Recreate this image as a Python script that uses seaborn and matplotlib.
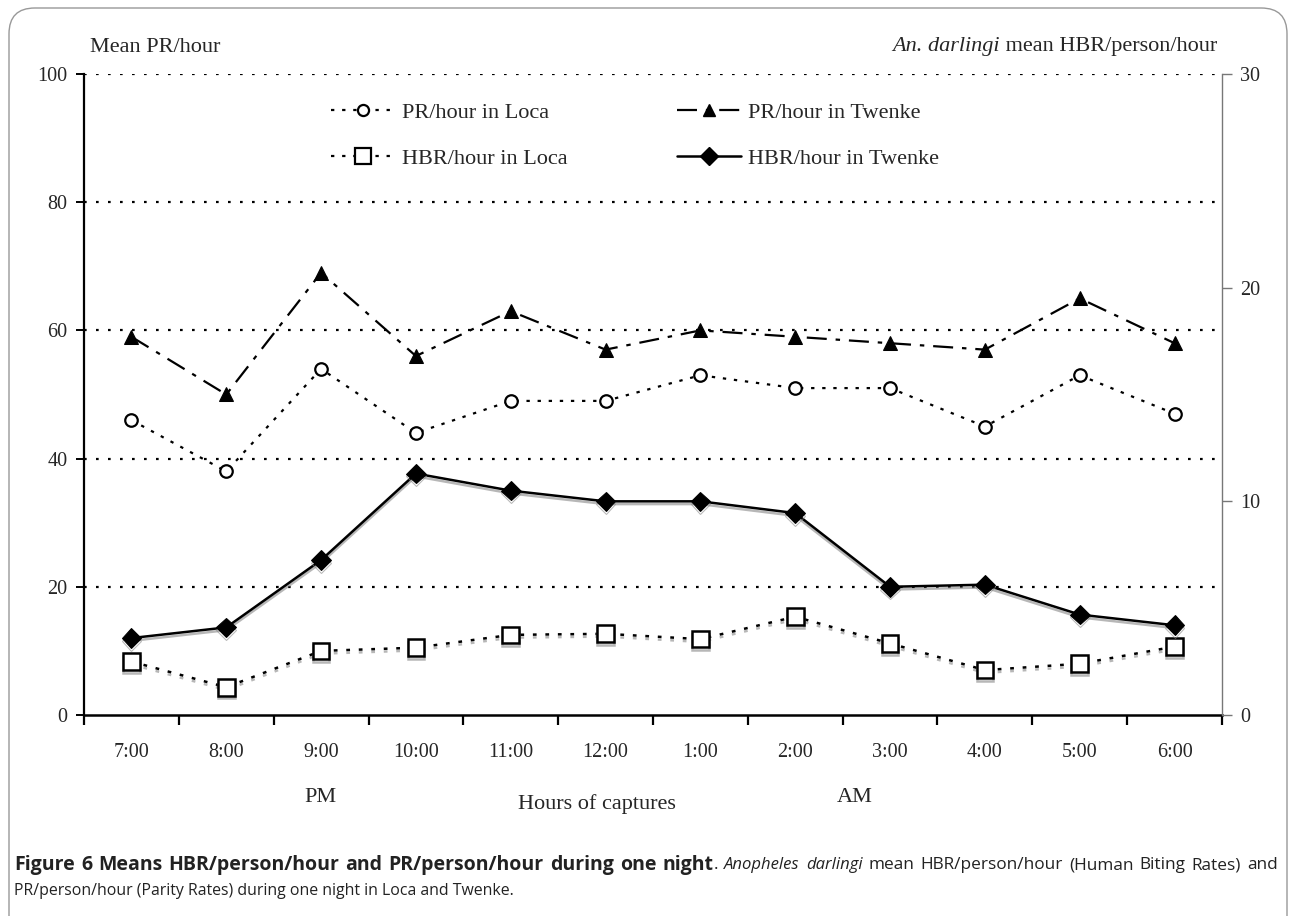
import numpy as np
import pandas as pd
import matplotlib
matplotlib.use("Agg")
import matplotlib.pyplot as plt
import matplotlib.patheffects as pe
from matplotlib.patches import FancyBboxPatch
from matplotlib.lines import Line2D
import seaborn as sns

hours = ["7:00", "8:00", "9:00", "10:00", "11:00", "12:00",
         "1:00", "2:00", "3:00", "4:00", "5:00", "6:00"]
pr_loca = [46, 38, 54, 44, 49, 49, 53, 51, 51, 45, 53, 47]
pr_twenke = [59, 50, 69, 56, 63, 57, 60, 59, 58, 57, 65, 58]
hbr_loca = [2.5, 1.3, 3.0, 3.15, 3.75, 3.8, 3.55, 4.6, 3.35, 2.1, 2.4, 3.2]
hbr_twenke = [3.6, 4.1, 7.25, 11.3, 10.5, 10.0, 10.0, 9.45, 6.0, 6.1, 4.7, 4.2]

left_ticks = [0, 20, 40, 60, 80, 100]
right_ticks = [0, 10, 20, 30]

sns.set_theme(style="white")
plt.rcParams["font.family"] = ["Liberation Serif", "DejaVu Serif"]

W, H = 1292, 916
fig = plt.figure(figsize=(W / 100, H / 100), dpi=100)
ax = fig.add_axes([84 / W, 1 - 715 / H, (1222 - 84) / W, (715 - 74) / H])
ax2 = ax.twinx()

x = np.arange(len(hours))
df = pd.DataFrame({"x": x, "pr_loca": pr_loca, "pr_twenke": pr_twenke,
                   "hbr_loca": hbr_loca, "hbr_twenke": hbr_twenke})

shadow = [pe.SimpleLineShadow(offset=(0, -2), shadow_color="#888888", alpha=0.6),
          pe.Normal()]

# left-axis series
sns.lineplot(data=df, x="x", y="pr_loca", ax=ax, color="black", lw=1.6,
             linestyle=(0, (1.5, 3.5)), marker="o", markersize=9,
             markerfacecolor="white", markeredgecolor="black", markeredgewidth=1.6,
             zorder=5)
sns.lineplot(data=df, x="x", y="pr_twenke", ax=ax, color="black", lw=1.6,
             linestyle=(0, (9, 4, 2, 4)), marker="^", markersize=10,
             markerfacecolor="black", markeredgecolor="black", zorder=5)

# right-axis series
sns.lineplot(data=df, x="x", y="hbr_loca", ax=ax2, color="black", lw=1.8,
             linestyle=(0, (1.5, 3.5)), marker="s", markersize=12,
             markerfacecolor="white", markeredgecolor="black", markeredgewidth=1.8,
             path_effects=shadow, zorder=5)
sns.lineplot(data=df, x="x", y="hbr_twenke", ax=ax2, color="black", lw=1.8,
             linestyle="-", marker="D", markersize=10,
             markerfacecolor="black", markeredgecolor="black",
             path_effects=shadow, zorder=5)

# axes limits / ticks
ax.set_xlim(-0.5, len(hours) - 0.5)
ax.set_ylim(0, 100)
ax2.set_ylim(0, 30)
ax.set_yticks(left_ticks)
ax2.set_yticks(right_ticks)
ax.set_xticks(x)
ax.set_xticklabels(hours)
ax.set_xticks(np.arange(-0.5, len(hours)), minor=True)
ax.tick_params(axis="x", which="major", length=0, pad=20, labelsize=14.5)
ax.tick_params(axis="x", which="minor", direction="out", length=7, width=1.6,
               color="black", bottom=True)
ax.tick_params(axis="y", direction="out", length=6, width=1.4, color="black",
               labelsize=14.5, pad=6, left=True)
ax2.tick_params(axis="y", direction="out", length=7, width=1.0, color="#777777",
                labelsize=14.5, pad=6, right=True)
ax.set_xlabel("")
ax.set_ylabel("")
ax2.set_ylabel("")

# grid lines
for v in left_ticks[1:]:
    ax.axhline(v, color="black", lw=1.6, linestyle=(0, (1.2, 4.2)), zorder=1)

# spines
ax.spines["top"].set_visible(False)
ax2.spines["top"].set_visible(False)
ax.spines["right"].set_visible(False)
ax2.spines["left"].set_visible(False)
ax2.spines["bottom"].set_visible(False)
ax.spines["left"].set_color("black")
ax.spines["left"].set_linewidth(1.6)
ax.spines["bottom"].set_color("black")
ax.spines["bottom"].set_linewidth(1.8)
ax2.spines["right"].set_color("#777777")
ax2.spines["right"].set_linewidth(1.0)

# legend
handles = [
    Line2D([], [], color="black", lw=1.6, linestyle=(0, (1.5, 3.5)), marker="o",
           markersize=8, markerfacecolor="white", markeredgewidth=1.6),
    Line2D([], [], color="black", lw=1.6, linestyle=(0, (1.5, 3.5)), marker="s",
           markersize=11, markerfacecolor="white", markeredgewidth=1.6),
    Line2D([], [], color="black", lw=1.6, linestyle=(0, (9, 4, 2, 4)), marker="^",
           markersize=9, markerfacecolor="black"),
    Line2D([], [], color="black", lw=1.8, linestyle="-", marker="D",
           markersize=9, markerfacecolor="black"),
]
labels = ["PR/hour in Loca", "HBR/hour in Loca", "PR/hour in Twenke", "HBR/hour in Twenke"]
ax_w = 1222 - 84
ax_h = 715 - 74
leg = ax2.legend(handles, labels, ncol=2, loc="upper left",
                 bbox_to_anchor=((331 - 84) / ax_w, 1 - (102 - 74) / ax_h),
                 frameon=False, fontsize=16, handlelength=2.9, handletextpad=0.3,
                 columnspacing=4.9, labelspacing=1.15, borderpad=0, borderaxespad=0)

# axis titles
fig.text(90 / W, 1 - 47 / H, "Mean PR/hour", fontsize=16, ha="left", va="center")
rt = fig.text(1217 / W, 1 - 47 / H, " mean HBR/person/hour", fontsize=16,
              ha="right", va="center")
fig.canvas.draw()
rx0 = rt.get_window_extent().x0 / W
fig.text(rx0, 1 - 47 / H, "An. darlingi", fontsize=16, style="italic",
         ha="right", va="center")
fig.text(320 / W, 1 - 797 / H, "PM", fontsize=16, ha="center", va="center")
fig.text(855 / W, 1 - 797 / H, "AM", fontsize=16, ha="center", va="center")
fig.text(597 / W, 1 - 804 / H, "Hours of captures", fontsize=16, ha="center", va="center")

# caption (justified first line)
cap_font = ["Open Sans", "DejaVu Sans"]
cap_col = "#222222"
bold_part = "Figure 6 Means HBR/person/hour and PR/person/hour during one night"
tokens = [(w, "bold") for w in bold_part.split(" ")]
tokens.append((".", "attach"))
tokens += [("Anopheles", "italic"), ("darlingi", "italic")]
tokens += [(w, "normal") for w in "mean HBR/person/hour (Human Biting Rates) and".split(" ")]
renderer = fig.canvas.get_renderer()
objs = []
for word, sty in tokens:
    kw = dict(fontsize=12.4, family=cap_font, ha="left", va="center", color=cap_col)
    if sty == "bold":
        kw.update(fontweight="bold", fontsize=14)
    elif sty == "italic":
        kw.update(fontsize=12)
        kw.update(style="italic")
    t = fig.text(0, 1 - 865 / H, word, **kw)
    objs.append((t, sty))
fig.canvas.draw()
widths = [t.get_window_extent(renderer).width for t, _ in objs]
n_gaps = sum(1 for _, s in objs[1:] if s != "attach")
x_left, x_right = 14, 1278
gap = (x_right - x_left - sum(widths)) / n_gaps
cur = x_left
for i, ((t, sty), wdt) in enumerate(zip(objs, widths)):
    if i > 0 and sty != "attach":
        cur += gap
    t.set_x(cur / W)
    cur += wdt
fig.text(14 / W, 1 - 891 / H, "PR/person/hour (Parity Rates) during one night in Loca and Twenke.",
         fontsize=11.4, family=cap_font, ha="left", va="center", color=cap_col)

# rounded border
border = FancyBboxPatch((9 / W, -0.05), (1287 - 9) / W, (1 - 8 / H) + 0.05,
                        boxstyle="round,pad=0,rounding_size=0.02",
                        transform=fig.transFigure, fill=False, edgecolor="#999999",
                        lw=1.0, mutation_aspect=W / H)
fig.patches.append(border)

fig.savefig("out.png", dpi=100)
